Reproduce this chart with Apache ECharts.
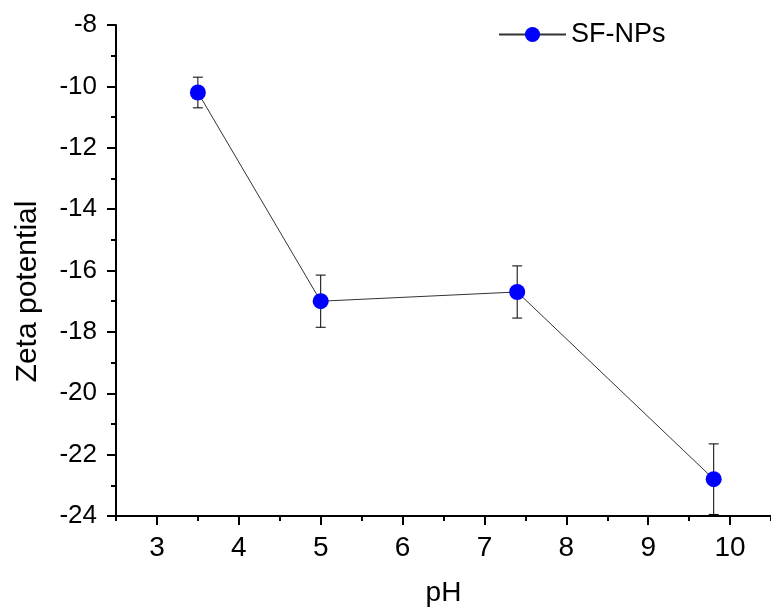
<!DOCTYPE html>
<html>
<head>
<meta charset="utf-8">
<script src="https://cdn.jsdelivr.net/npm/echarts@6/dist/echarts.min.js"></script>
<style>
  html, body { margin: 0; padding: 0; background: #fff; }
  #chart { width: 771px; height: 614px; }
</style>
</head>
<body>
<div id="chart"></div>
<script>
// pH vs zeta potential (SF-NPs)
const ph = [3.5, 5, 7.4, 9.8];
const zeta = [-10.2, -17.0, -16.7, -22.8];
const err = [0.5, 0.85, 0.85, 1.15];
const xMajor = [3, 4, 5, 6, 7, 8, 9, 10];
const xMinor = [2.5, 3.5, 4.5, 5.5, 6.5, 7.5, 8.5, 9.5, 10.5];

const font = 'Liberation Sans, Arial, sans-serif';
const axisColor = '#000';

let chart = echarts.init(document.getElementById('chart'));

const points = ph.map((x, i) => [x, zeta[i]]);
const bars = ph.map((x, i) => [x, zeta[i] - err[i], zeta[i] + err[i]]);

let option = {
  animation: false,
  grid: { left: 116, right: 0, top: 25, bottom: 98 },
  legend: {
    left: 493,
    top: 16,
    itemWidth: 67,
    itemHeight: 19,
    itemGap: 10,
    textStyle: { fontFamily: font, fontSize: 27, color: '#000' },
    data: ['SF-NPs']
  },
  xAxis: [
    {
      type: 'value',
      min: 2.5,
      max: 10.5,
      name: 'pH',
      nameLocation: 'middle',
      nameGap: 63,
      nameTextStyle: { fontFamily: font, fontSize: 28, color: '#000' },
      axisLine: { show: true, lineStyle: { color: axisColor, width: 2 } },
      axisTick: { show: true, customValues: xMajor, length: 9, lineStyle: { width: 2 } },
      axisLabel: { customValues: xMajor, margin: 18, fontFamily: font, fontSize: 28, color: '#000' },
      splitLine: { show: false }
    },
    {
      type: 'value',
      min: 2.5,
      max: 10.5,
      position: 'bottom',
      axisLine: { show: false },
      axisTick: { show: true, customValues: xMinor, length: 5, lineStyle: { color: axisColor, width: 2 } },
      axisLabel: { show: false },
      splitLine: { show: false }
    }
  ],
  yAxis: {
    type: 'value',
    min: -24,
    max: -8,
    interval: 2,
    name: 'Zeta potential',
    nameLocation: 'middle',
    nameGap: 73,
    nameTextStyle: { fontFamily: font, fontSize: 30, color: '#000', padding: [0, 42, 0, 0] },
    axisLine: { show: true, lineStyle: { color: axisColor, width: 2 } },
    axisTick: { show: true, length: 9, lineStyle: { width: 2 } },
    minorTick: { show: true, splitNumber: 2, length: 5, lineStyle: { color: axisColor, width: 2 } },
    axisLabel: { margin: 19, fontFamily: font, fontSize: 26, color: '#000' },
    splitLine: { show: false }
  },
  series: [
    {
      type: 'custom',
      name: 'err',
      z: 1,
      data: bars,
      renderItem: function (params, api) {
        const x = api.value(0);
        const lo = api.coord([x, api.value(1)]);
        const hi = api.coord([x, api.value(2)]);
        const w = 5;
        const style = { stroke: '#000', lineWidth: 1 };
        return {
          type: 'group',
          children: [
            { type: 'line', shape: { x1: lo[0], y1: lo[1], x2: hi[0], y2: hi[1] }, style: style },
            { type: 'line', shape: { x1: lo[0] - w, y1: lo[1], x2: lo[0] + w, y2: lo[1] }, style: style },
            { type: 'line', shape: { x1: hi[0] - w, y1: hi[1], x2: hi[0] + w, y2: hi[1] }, style: style }
          ]
        };
      }
    },
    {
      type: 'line',
      name: 'SF-NPs',
      z: 3,
      data: points,
      symbol: 'circle',
      symbolSize: 16,
      itemStyle: { color: '#0000ff' },
      lineStyle: { color: '#333', width: 1 }
    }
  ]
};

chart.setOption(option);
</script>
</body>
</html>
